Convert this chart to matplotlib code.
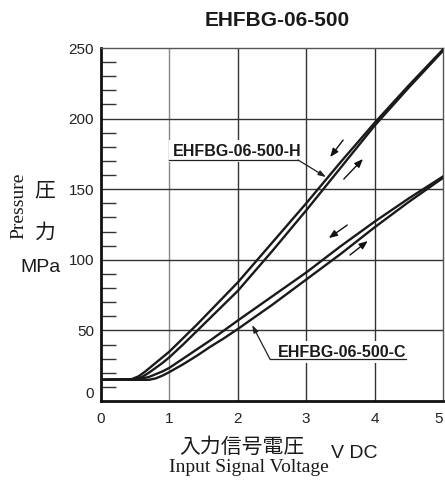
import matplotlib
matplotlib.use("Agg")
import matplotlib.pyplot as plt
import matplotlib.transforms as mtransforms
import numpy as np

# --- data ---
h_up_x = [0.0, 0.5, 0.6, 0.7, 0.8, 0.9, 1.0, 1.2, 1.4, 1.6, 1.8, 2.0,
          2.5, 3.0, 3.5, 4.0, 4.5, 5.0]
h_up_y = [15, 15.5, 17, 20, 23.5, 27, 31, 40, 49.5, 59, 68.5, 78,
          106, 135, 165, 195, 222, 248]
h_dn_x = [0.0, 0.45, 0.55, 0.65, 0.75, 0.85, 1.0, 1.2, 1.4, 1.6, 1.8, 2.0,
          2.5, 3.0, 3.5, 4.0, 4.5, 5.0]
h_dn_y = [15, 15.5, 17.5, 21, 25, 29, 35, 44.5, 54, 64, 74, 84,
          112, 140, 169, 197, 223.5, 249]

c_up_x = [0.0, 0.7, 0.8, 0.9, 1.0, 1.2, 1.4, 1.6, 1.8, 2.0,
          2.5, 3.0, 3.5, 4.0, 4.5, 5.0]
c_up_y = [15, 15, 16, 18, 20.5, 26, 32, 38.5, 44.5, 51,
          68, 86, 104, 123, 141, 158]
c_dn_x = [0.0, 0.5, 0.6, 0.7, 0.8, 0.9, 1.0, 1.2, 1.4, 1.6, 1.8, 2.0,
          2.5, 3.0, 3.5, 4.0, 4.5, 5.0]
c_dn_y = [15, 15.5, 16, 17, 19, 21, 23.5, 30, 36.5, 43, 50, 57,
          74, 91, 109.5, 127, 143.5, 159]

x_ticks = [0, 1, 2, 3, 4, 5]
y_ticks = [0, 50, 100, 150, 200, 250]
y_minor = [v for v in range(0, 251, 10) if v % 50 != 0]

title = "EHFBG-06-500"
label_h = "EHFBG-06-500-H"
label_c = "EHFBG-06-500-C"

sans = ["Liberation Sans", "DejaVu Sans"]
serif = ["Liberation Serif", "DejaVu Serif"]
cjk = ["Noto Sans CJK JP", "DejaVu Sans"]

W, H = 445, 482
fig = plt.figure(figsize=(W / 100, H / 100), dpi=100)
ax = fig.add_axes([101 / W, 1 - 401 / H, 342 / W, 353 / H])

ax.set_xlim(0, 5)
ax.set_ylim(0, 250)

# grid
for xv in x_ticks[1:-1]:
    ax.axvline(xv, color="#888888" if xv == 1 else "#333333", lw=1.0, zorder=1)
for yv in y_ticks[1:-1]:
    ax.axhline(yv, color="#333333", lw=1.0, zorder=1)

# curves (double lines for hysteresis)
lc = "#1a1a1a"
for xs, ys in [(h_up_x, h_up_y), (h_dn_x, h_dn_y),
               (c_up_x, c_up_y), (c_dn_x, c_dn_y)]:
    ax.plot(xs, ys, color=lc, lw=1.7, zorder=3, solid_joinstyle="round")

# spines
for s in ["left", "bottom"]:
    ax.spines[s].set_linewidth(2.0)
    ax.spines[s].set_color("#111111")
for s in ["top", "right"]:
    ax.spines[s].set_linewidth(1.0)
    ax.spines[s].set_color("#555555")

ax.set_xticks(x_ticks)
ax.set_yticks(y_ticks)
ax.set_yticks(y_minor, minor=True)
ax.tick_params(axis="both", which="major", length=0, labelsize=11,
               labelcolor="#222222")
ax.tick_params(axis="x", which="major", pad=8)
ax.tick_params(axis="y", which="major", pad=5)
ax.tick_params(axis="y", which="minor", direction="in", length=11,
               width=1.0, color="#333333")
ax.tick_params(axis="x", which="minor", length=0)
for lab in ax.get_xticklabels() + ax.get_yticklabels():
    lab.set_family(sans)
# last x label pulled in so it stays inside the figure
lab5 = ax.get_xticklabels()[-1]
lab5.set_transform(lab5.get_transform() +
                   mtransforms.ScaledTranslation(-4 / 100, 0, fig.dpi_scale_trans))
# "0" on the y axis sits a bit above the axis line
lab0 = ax.get_yticklabels()[0]
lab0.set_transform(lab0.get_transform() +
                   mtransforms.ScaledTranslation(0, 9 / 100, fig.dpi_scale_trans))

# direction arrows
arr = dict(arrowstyle="-|>,head_length=0.5,head_width=0.2", color="#111111",
           lw=1.0, shrinkA=0, shrinkB=0)
ax.annotate("", xy=(3.35, 172.8), xytext=(3.54, 184.8), arrowprops=arr, zorder=4)
ax.annotate("", xy=(3.83, 171.4), xytext=(3.55, 157.2), arrowprops=arr, zorder=4)
ax.annotate("", xy=(3.33, 115.4), xytext=(3.60, 124.6), arrowprops=arr, zorder=4)
ax.annotate("", xy=(3.90, 113.3), xytext=(3.64, 103.4), arrowprops=arr, zorder=4)

# leader lines with labels
lead = dict(arrowstyle="-|>,head_length=0.45,head_width=0.15", color="#222222",
            lw=0.9, shrinkA=0, shrinkB=0)
ax.annotate("", xy=(3.29, 158.6), xytext=(2.88, 170.7), arrowprops=lead, zorder=6)
ax.plot([1.0, 2.88], [170.7, 170.7], color="#222222", lw=0.9, zorder=6)
ax.text(1.05, 177, label_h, family=sans, weight="bold", fontsize=11.5,
        color="#1a1a1a", va="center", ha="left", zorder=5,
        bbox=dict(facecolor="white", edgecolor="none", pad=2.5))

ax.annotate("", xy=(2.21, 53.8), xytext=(2.47, 29.7), arrowprops=lead, zorder=6)
ax.plot([2.47, 4.46], [29.7, 29.7], color="#222222", lw=0.9, zorder=6)
ax.text(2.59, 34.7, label_c, family=sans, weight="bold", fontsize=11.5,
        color="#1a1a1a", va="center", ha="left", zorder=5,
        bbox=dict(facecolor="white", edgecolor="none", pad=2.5))

# title and axis captions
fig.text(277 / W, 1 - 20 / H, title, family=sans, weight="bold", fontsize=15,
         ha="center", va="center", color="#1a1a1a")
fig.text(19 / W, 1 - 206 / H, "Pressure", family=serif, fontsize=14,
         rotation=90, ha="center", va="center", color="#1a1a1a")
fig.text(45 / W, 1 - 190 / H, "圧", family=cjk, fontsize=15,
         ha="center", va="center", color="#1a1a1a")
fig.text(45 / W, 1 - 233 / H, "力", family=cjk, fontsize=15,
         ha="center", va="center", color="#1a1a1a")
fig.text(40 / W, 1 - 268 / H, "MPa", family=sans, fontsize=14,
         ha="center", va="center", color="#1a1a1a")
fig.text(242 / W, 1 - 447 / H, "入力信号電圧", family=cjk, fontsize=15,
         ha="center", va="center", color="#1a1a1a")
fig.text(354 / W, 1 - 453 / H, "V DC", family=sans, fontsize=14,
         ha="center", va="center", color="#1a1a1a")
fig.text(249 / W, 1 - 468 / H, "Input Signal Voltage", family=serif,
         fontsize=14, ha="center", va="center", color="#1a1a1a")

fig.savefig("out.png", dpi=100)
